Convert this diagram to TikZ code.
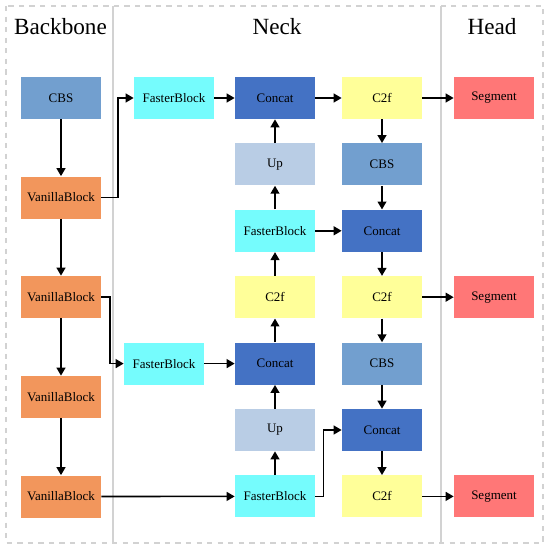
\documentclass[tikz,border=0pt]{standalone}
\usepackage{fontspec}
\setmainfont{Liberation Serif}
\usetikzlibrary{arrows.meta}

\definecolor{cbsblue}{RGB}{114,159,207}
\definecolor{vanilla}{RGB}{242,150,92}
\definecolor{faster}{RGB}{117,252,253}
\definecolor{concatblue}{RGB}{68,114,196}
\definecolor{upblue}{RGB}{185,205,229}
\definecolor{cfyellow}{RGB}{255,255,153}
\definecolor{segred}{RGB}{255,119,119}

\begin{document}
\begin{tikzpicture}[
    block/.style={minimum width=1.6cm, minimum height=0.84cm, inner sep=0pt, font=\fontsize{7.4}{8}\selectfont},
    title/.style={font=\fontsize{13.2}{15}\selectfont},
    arr/.style={-{Triangle[length=4.5pt,width=5pt]}, line width=0.9pt, black},
    frame/.style={gray!35, line width=0.6pt}
]
\useasboundingbox (0,0) rectangle (11,-11);
\draw[frame, dashed] (0.12,-0.12) rectangle (10.86,-10.86);
\draw[frame] (2.26,-0.12) -- (2.26,-10.86);
\draw[frame] (8.82,-0.12) -- (8.82,-10.86);

\node[title] (tbb) at (1.21,-0.54) {Backbone};
\node[title] (tneck) at (5.54,-0.54) {Neck};
\node[title] (thead) at (9.84,-0.54) {Head};

\node[block, fill=cbsblue] (cbs) at (1.22,-1.96) {CBS};
\node[block, fill=vanilla] (vb1) at (1.22,-3.95) {VanillaBlock};
\node[block, fill=vanilla] (vb2) at (1.22,-5.94) {VanillaBlock};
\node[block, fill=vanilla] (vb3) at (1.22,-7.94) {VanillaBlock};
\node[block, fill=vanilla] (vb4) at (1.22,-9.93) {VanillaBlock};

\node[block, fill=faster] (fb1) at (3.48,-1.96) {FasterBlock};
\node[block, fill=faster] (fb2) at (3.28,-7.272) {FasterBlock};

\node[block, fill=concatblue] (cat1) at (5.5,-1.96) {Concat};
\node[block, fill=upblue] (up1) at (5.5,-3.288) {Up};
\node[block, fill=faster] (fb3) at (5.5,-4.616) {FasterBlock};
\node[block, fill=cfyellow] (c2f1) at (5.5,-5.944) {C2f};
\node[block, fill=concatblue] (cat2) at (5.5,-7.272) {Concat};
\node[block, fill=upblue] (up2) at (5.5,-8.6) {Up};
\node[block, fill=faster] (fb4) at (5.5,-9.928) {FasterBlock};

\node[block, fill=cfyellow] (c2f2) at (7.64,-1.96) {C2f};
\node[block, fill=cbsblue] (cbs2) at (7.64,-3.288) {CBS};
\node[block, fill=concatblue] (cat3) at (7.64,-4.616) {Concat};
\node[block, fill=cfyellow] (c2f3) at (7.64,-5.944) {C2f};
\node[block, fill=cbsblue] (cbs3) at (7.64,-7.272) {CBS};
\node[block, fill=concatblue] (cat4) at (7.64,-8.6) {Concat};
\node[block, fill=cfyellow] (c2f4) at (7.64,-9.928) {C2f};

\node[block, fill=segred] (seg1) at (9.88,-1.96) {Segment};
\node[block, fill=segred] (seg2) at (9.88,-5.944) {Segment};
\node[block, fill=segred] (seg3) at (9.88,-9.928) {Segment};

\draw[arr] (cbs) -- (vb1);
\draw[arr] (vb1) -- (vb2);
\draw[arr] (vb2) -- (vb3);
\draw[arr] (vb3) -- (vb4);
\draw[arr] (vb1.east) -- ++(0.33,0) |- (fb1.west);
\draw[arr] (vb2.east) -- ++(0.17,0) |- (fb2.west);
\draw[arr] (vb4) -- (fb4);

\draw[arr] (fb1) -- (cat1);
\draw[arr] (fb2) -- (cat2);
\draw[arr] (fb4) -- (up2);
\draw[arr] (up2) -- (cat2);
\draw[arr] (cat2) -- (c2f1);
\draw[arr] (c2f1) -- (fb3);
\draw[arr] (fb3) -- (up1);
\draw[arr] (up1) -- (cat1);
\draw[arr] (cat1) -- (c2f2);
\draw[arr] (fb3) -- (cat3);
\draw[arr] (fb4.east) -- ++(0.16,0) |- (cat4.west);

\draw[arr] (c2f2) -- (cbs2);
\draw[arr] (cbs2) -- (cat3);
\draw[arr] (cat3) -- (c2f3);
\draw[arr] (c2f3) -- (cbs3);
\draw[arr] (cbs3) -- (cat4);
\draw[arr] (cat4) -- (c2f4);

\draw[arr] (c2f2) -- (seg1);
\draw[arr] (c2f3) -- (seg2);
\draw[arr] (c2f4) -- (seg3);
\end{tikzpicture}
\end{document}
